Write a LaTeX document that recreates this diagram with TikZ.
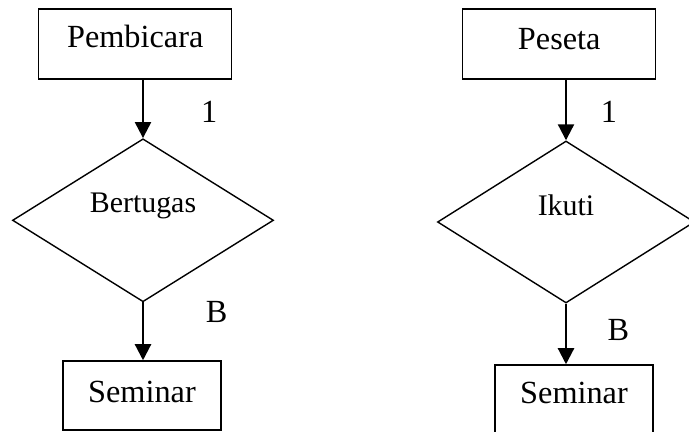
\documentclass[tikz,border=0pt]{standalone}
\usepackage{fontspec}
\setmainfont{Liberation Serif}
\usetikzlibrary{shapes.geometric,arrows.meta}
\begin{document}
\begin{tikzpicture}[x=0.5bp,y=-0.5bp,
  box/.style={draw,line width=0.75bp,rectangle,inner sep=0pt},
  dec/.style={draw,line width=0.7bp,diamond,inner sep=0pt},
  arr/.style={line width=1.1bp,-{Triangle[length=8bp,width=8bp]}},
  txt/.style={inner sep=0pt,font=\fontsize{16.2}{19}\selectfont,text height=0.66em,text depth=0pt},
  dtxt/.style={txt,font=\fontsize{15}{17}\selectfont}]
\clip (0,0) rectangle (689,432);
% left column
\node[box,minimum width=96.5bp,minimum height=35bp,
  label={[txt,yshift=1.35bp]center:Pembicara}] (p1) at (135.2,44) {};
\node[dec,minimum width=130.5bp,minimum height=81.5bp,
  label={[dtxt,yshift=7.1bp]center:Bertugas}] (d1) at (143,220.3) {};
\node[box,minimum width=79bp,minimum height=34.5bp,
  label={[txt,yshift=0bp]center:Seminar}] (s1) at (142,395.5) {};
\node[txt] (n1) at (209.3,115.5) {1};
\node[txt] (b1) at (216.7,315.5) {B};
\draw[arr] (d1.north |- p1.south) -- (d1.north);
\draw[arr] (d1.south) -- (d1.south |- s1.north);
% right column
\node[box,minimum width=96.5bp,minimum height=35bp,
  label={[txt,yshift=0.65bp]center:Peseta}] (p2) at (559.2,44) {};
\node[dec,minimum width=128.5bp,minimum height=81bp,
  label={[dtxt,yshift=6.6bp]center:Ikuti}] (d2) at (566,222) {};
\node[box,minimum width=79bp,minimum height=34.5bp,
  label={[txt,yshift=1.15bp]center:Seminar}] (s2) at (574,399.5) {};
\node[txt] (n2) at (609,115.5) {1};
\node[txt] (b2) at (618.3,333.8) {B};
\draw[arr] (d2.north |- p2.south) -- (d2.north);
\draw[arr] (d2.south) -- (d2.south |- s2.north);
\end{tikzpicture}
\end{document}
